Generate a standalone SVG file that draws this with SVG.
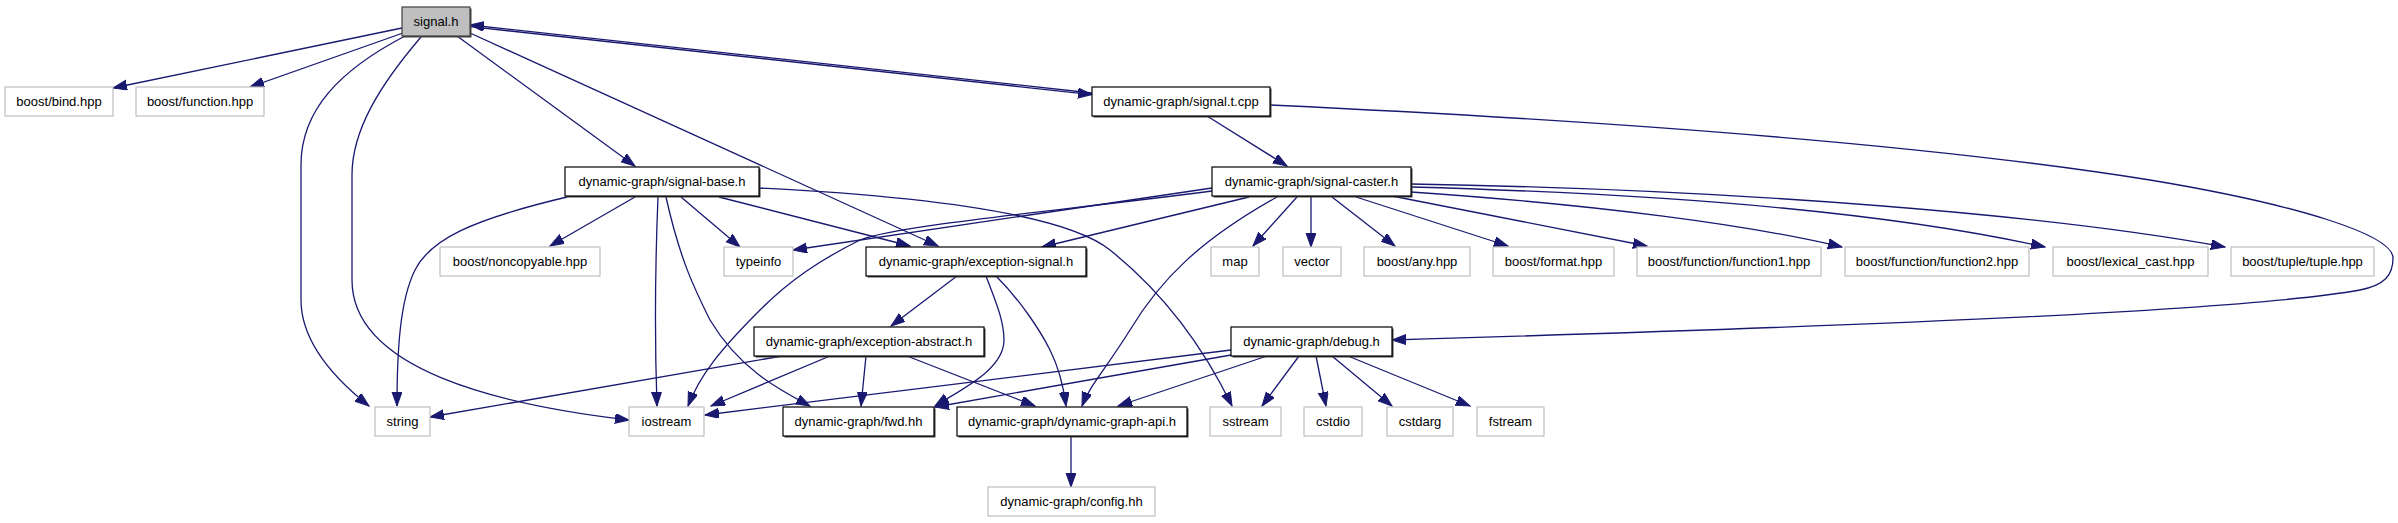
<svg xmlns="http://www.w3.org/2000/svg" width="2398" height="523" viewBox="0 0 2398 523">
<style>
text{font-family:"Liberation Sans",Arial,sans-serif;font-size:13px;text-anchor:middle;fill:#000}
.g rect{fill:#fff;stroke:#bfbfbf;stroke-width:1.2}
.b rect.s{fill:#404040;stroke:none}
.b rect.m{fill:#fff;stroke:#000;stroke-width:1.2}
.r rect.s{fill:#404040;stroke:none}
.r rect.m{fill:#bfbfbf;stroke:#404040;stroke-width:1.2}
#edges path{fill:none;stroke:#191970;stroke-width:1.3;marker-end:url(#ah)}
</style>
<defs>
<marker id="ah" markerUnits="userSpaceOnUse" markerWidth="16" markerHeight="12" refX="14" refY="5" orient="auto">
<path d="M0,0 L14,5 L0,10 Z" fill="#191970" stroke="#191970" stroke-width="1"/>
</marker>
</defs>
<rect width="2398" height="523" fill="#fff"/>
<g id="edges">
<path d="M402,28 L113,88"/>
<path d="M403,33 L250,87"/>
<path d="M405,36 C340,70 301,110 301,165 L301,300 C301,340 330,375 369,406"/>
<path d="M421,37 C380,85 352,130 352,175 L352,280 C352,370 500,405 629,420"/>
<path d="M457,36 L635,166"/>
<path d="M470,33 L938,246"/>
<path d="M470,26.6 L1092,94.6"/>
<path d="M1092,93 L470,25"/>
<path d="M1207,116 L1287,166"/>
<path d="M1270,105 C1550,118 1900,140 2150,180 C2300,205 2393,235 2393,258 C2393,275 2385,285 2360,290 C2250,310 1900,325 1392,340"/>
<path d="M635,197 L550,246"/>
<path d="M681,197 L740,247"/>
<path d="M567,197 C470,220 430,240 415,270 C400,300 397,350 397,406"/>
<path d="M658,197 C655,270 655,350 657,406"/>
<path d="M666,197 C680,260 695,290 710,320 C740,370 780,390 810,406"/>
<path d="M719,197 L910,246"/>
<path d="M759,188 C900,195 1060,210 1110,250 C1160,290 1200,340 1232,406"/>
<path d="M1212,188 L793,250"/>
<path d="M1212,191 C1050,212 900,225 860,240 C820,260 790,280 760,310 C720,350 700,375 688,406"/>
<path d="M1249,197 L1042,247"/>
<path d="M1277,197 C1200,240 1160,280 1130,330 C1105,370 1090,385 1082,406"/>
<path d="M1297,197 L1253,246"/>
<path d="M1311,197 L1311,247"/>
<path d="M1332,197 L1395,246"/>
<path d="M1356,197 L1508,246"/>
<path d="M1392,196 L1647,246"/>
<path d="M1411,192 C1600,205 1750,225 1842,247"/>
<path d="M1411,187 C1700,195 1900,215 2045,247"/>
<path d="M1411,184 C1750,190 2050,215 2225,247"/>
<path d="M957,276 L891,326"/>
<path d="M986,276 C995,300 1004,320 1004,340 C1004,370 960,390 935,406"/>
<path d="M996,276 C1020,300 1040,330 1050,350 C1060,370 1064,390 1066,406"/>
<path d="M782,356 L430,417"/>
<path d="M830,356 L711,406"/>
<path d="M866,356 L861,406"/>
<path d="M907,356 L1035,406"/>
<path d="M1231,350 L705,415"/>
<path d="M1231,355 L935,407"/>
<path d="M1267,356 L1118,406"/>
<path d="M1299,356 L1262,406"/>
<path d="M1316,356 L1326,406"/>
<path d="M1332,356 L1392,406"/>
<path d="M1348,356 L1470,406"/>
<path d="M1071,436 L1071,487"/>
</g>
<g id="n_signal" class="r"><rect class="s" x="403.5" y="8.5" width="68" height="29"/><rect class="m" x="402" y="7" width="68" height="29"/><text x="436" y="26">signal.h</text></g>
<g id="n_bind" class="g"><rect x="5" y="87" width="108" height="29"/><text x="59" y="106">boost/bind.hpp</text></g>
<g id="n_function" class="g"><rect x="136" y="87" width="128" height="29"/><text x="200" y="106">boost/function.hpp</text></g>
<g id="n_signal_t" class="b"><rect class="s" x="1093.5" y="88.5" width="178" height="29"/><rect class="m" x="1092" y="87" width="178" height="29"/><text x="1181" y="106">dynamic-graph/signal.t.cpp</text></g>
<g id="n_signal_base" class="b"><rect class="s" x="566.5" y="168.5" width="194" height="29"/><rect class="m" x="565" y="167" width="194" height="29"/><text x="662" y="186">dynamic-graph/signal-base.h</text></g>
<g id="n_signal_caster" class="b"><rect class="s" x="1213.5" y="168.5" width="199" height="29"/><rect class="m" x="1212" y="167" width="199" height="29"/><text x="1311.5" y="186">dynamic-graph/signal-caster.h</text></g>
<g id="n_noncopyable" class="g"><rect x="440" y="247" width="160" height="29"/><text x="520" y="266">boost/noncopyable.hpp</text></g>
<g id="n_typeinfo" class="g"><rect x="724" y="247" width="69" height="29"/><text x="758.5" y="266">typeinfo</text></g>
<g id="n_exc_signal" class="b"><rect class="s" x="867.5" y="248.5" width="220" height="29"/><rect class="m" x="866" y="247" width="220" height="29"/><text x="976" y="266">dynamic-graph/exception-signal.h</text></g>
<g id="n_map" class="g"><rect x="1211" y="247" width="48" height="29"/><text x="1235" y="266">map</text></g>
<g id="n_vector" class="g"><rect x="1283" y="247" width="58" height="29"/><text x="1312" y="266">vector</text></g>
<g id="n_any" class="g"><rect x="1364" y="247" width="106" height="29"/><text x="1417" y="266">boost/any.hpp</text></g>
<g id="n_format" class="g"><rect x="1493" y="247" width="121" height="29"/><text x="1553.5" y="266">boost/format.hpp</text></g>
<g id="n_f1" class="g"><rect x="1637" y="247" width="184" height="29"/><text x="1729" y="266">boost/function/function1.hpp</text></g>
<g id="n_f2" class="g"><rect x="1845" y="247" width="184" height="29"/><text x="1937" y="266">boost/function/function2.hpp</text></g>
<g id="n_lex" class="g"><rect x="2053" y="247" width="155" height="29"/><text x="2130.5" y="266">boost/lexical_cast.hpp</text></g>
<g id="n_tuple" class="g"><rect x="2231" y="247" width="143" height="29"/><text x="2302.5" y="266">boost/tuple/tuple.hpp</text></g>
<g id="n_exc_abs" class="b"><rect class="s" x="755.5" y="328.5" width="230" height="29"/><rect class="m" x="754" y="327" width="230" height="29"/><text x="869" y="346">dynamic-graph/exception-abstract.h</text></g>
<g id="n_debug" class="b"><rect class="s" x="1232.5" y="328.5" width="161" height="29"/><rect class="m" x="1231" y="327" width="161" height="29"/><text x="1311.5" y="346">dynamic-graph/debug.h</text></g>
<g id="n_string" class="g"><rect x="375" y="407" width="55" height="29"/><text x="402.5" y="426">string</text></g>
<g id="n_iostream" class="g"><rect x="629" y="407" width="75" height="29"/><text x="666.5" y="426">iostream</text></g>
<g id="n_fwd" class="b"><rect class="s" x="784.5" y="408.5" width="151" height="29"/><rect class="m" x="783" y="407" width="151" height="29"/><text x="858.5" y="426">dynamic-graph/fwd.hh</text></g>
<g id="n_api" class="b"><rect class="s" x="958.5" y="408.5" width="230" height="29"/><rect class="m" x="957" y="407" width="230" height="29"/><text x="1072" y="426">dynamic-graph/dynamic-graph-api.h</text></g>
<g id="n_sstream" class="g"><rect x="1210" y="407" width="71" height="29"/><text x="1245.5" y="426">sstream</text></g>
<g id="n_cstdio" class="g"><rect x="1304" y="407" width="58" height="29"/><text x="1333" y="426">cstdio</text></g>
<g id="n_cstdarg" class="g"><rect x="1387" y="407" width="66" height="29"/><text x="1420" y="426">cstdarg</text></g>
<g id="n_fstream" class="g"><rect x="1477" y="407" width="67" height="29"/><text x="1510.5" y="426">fstream</text></g>
<g id="n_config" class="g"><rect x="988" y="487" width="167" height="29"/><text x="1071.5" y="506">dynamic-graph/config.hh</text></g>
</svg>
